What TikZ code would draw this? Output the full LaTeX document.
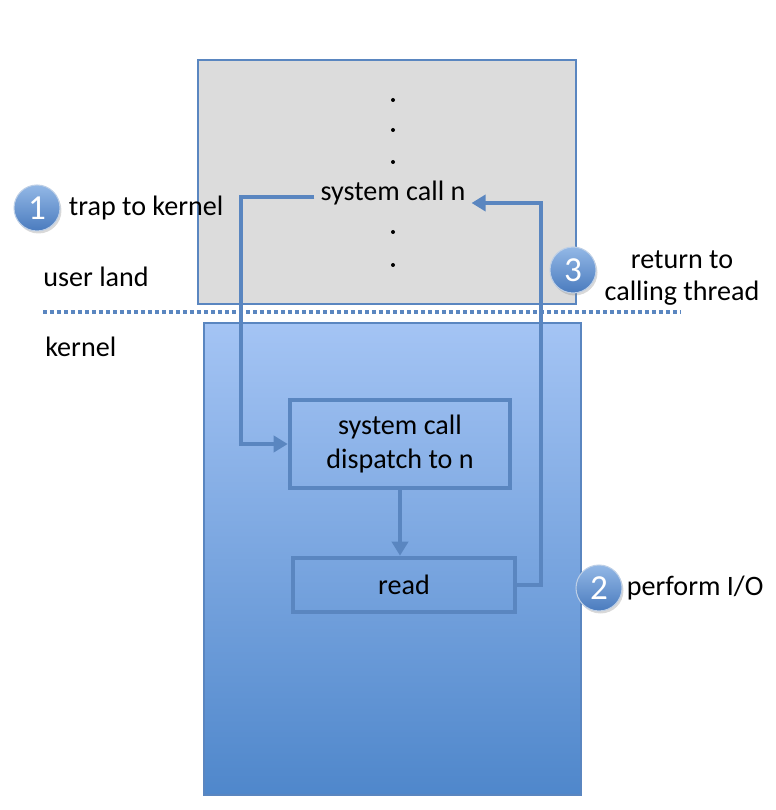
\documentclass[tikz,border=0pt]{standalone}
\usepackage{fontspec}
\setmainfont{Carlito}
\usetikzlibrary{arrows.meta,positioning,shadows}
\definecolor{edgeblue}{HTML}{5A86C0}
\definecolor{usergray}{HTML}{DCDCDC}
\definecolor{kerntop}{HTML}{A4C4F4}
\definecolor{kernbot}{HTML}{4F87CB}
\definecolor{balltop}{HTML}{93B8E6}
\definecolor{ballbot}{HTML}{4A7BBE}

\begin{document}
\begin{tikzpicture}[x=0.02cm,y=-0.02cm,
  font=\fontsize{16}{19}\selectfont,
  flow/.style={draw=edgeblue,line width=2.6pt,-{Triangle[length=0.28cm,width=0.32cm]}},
  stepbox/.style={draw=edgeblue,line width=2.6pt,align=center},
  badge/.style={circle,minimum size=0.92cm,inner sep=0pt,top color=balltop,bottom color=ballbot,
    draw=white!60!edgeblue,line width=0.6pt,text=white,font=\fontsize{20}{24}\selectfont,
    drop shadow={opacity=0.3,shadow xshift=0.03cm,shadow yshift=-0.05cm}},
  note/.style={inner sep=0pt,align=center}]
  \useasboundingbox (0,0) rectangle (776,810);
  \coordinate (sepL) at (43,312);
  \coordinate (sepR) at (680,312);
  \coordinate (trapc) at (241,197);
  \coordinate (retc) at (541,203);

  % user land and kernel areas
  \node[draw=edgeblue,line width=1.2pt,fill=usergray,minimum width=7.56cm,minimum height=4.88cm] (user) at (387,182) {};
  \node[draw=edgeblue,line width=1.2pt,top color=kerntop,bottom color=kernbot,minimum width=7.54cm,minimum height=9.44cm] (kern) at (392.5,559) {};
  \draw[edgeblue,line width=2.2pt,dash pattern=on 0.08cm off 0.06cm] (sepL) -- (sepR);

  \foreach \y in {100,130,162,232,265}
    \fill (393,\y) circle (0.04cm);

  \node (sysn) at (393,193) {system call n};
  \node[stepbox,minimum width=4.4cm,minimum height=1.76cm] (disp) at (400,444) {system call\\dispatch to n};
  \node[stepbox,minimum width=4.44cm,minimum height=1.08cm] (rd) at (404,585) {read};

  \draw[flow] (sysn.west |- trapc) -- (trapc) |- (disp.west);
  \draw[flow] (disp.south) -- (disp.south |- rd.north);
  \draw[flow] (rd.east) -| (retc) -- (retc -| sysn.east);

  \node[badge] (n1) at (37,208) {1};
  \node[badge] (n3) at (573,270) {3};
  \node[badge] (n2) at (599,588) {2};

  \node[note,right=0.16cm of n1] (trap) {trap to kernel};
  \node[note,right=0.08cm of n2] (perf) {perform I/O};
  \node[note,font=\fontsize{16}{18}\selectfont] (ret) at (682,278) {return to\\calling thread};
  \node[note,anchor=west] (ul) at (43,277) {user land};
  \node[note,anchor=west] (kl) at (45,347) {kernel};
\end{tikzpicture}
\end{document}
